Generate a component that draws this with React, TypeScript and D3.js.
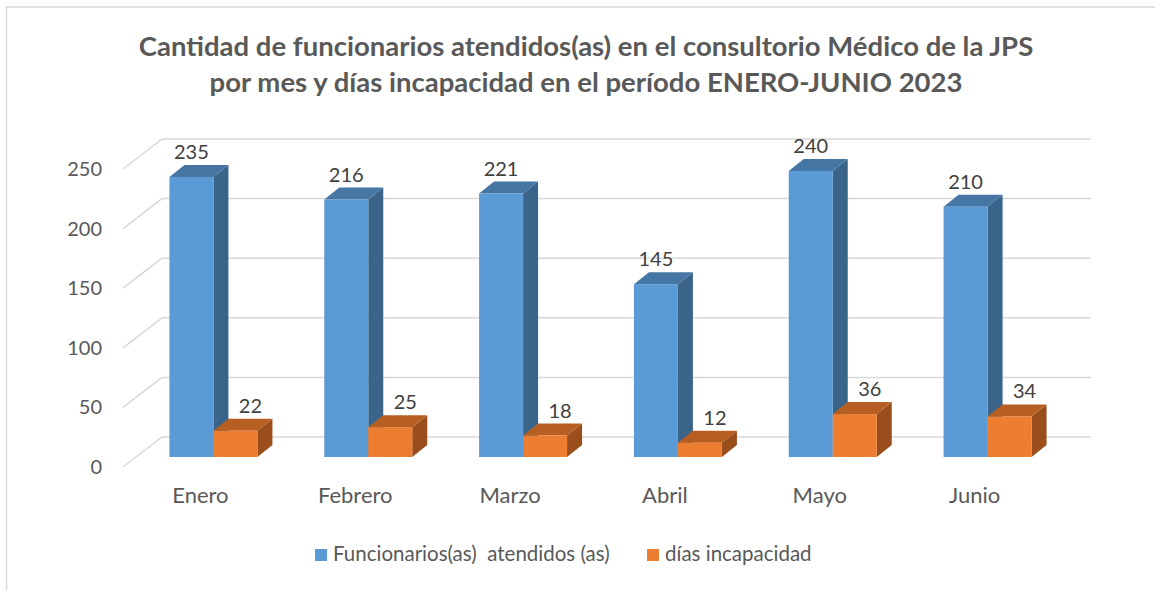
import React, { useEffect, useRef } from "react";
import * as d3 from "d3";

const months = ["Enero", "Febrero", "Marzo", "Abril", "Mayo", "Junio"];
const atendidos = [235, 216, 221, 145, 240, 210];
const incapacidad = [22, 25, 18, 12, 36, 34];
const yTicks = [0, 50, 100, 150, 200, 250];
const seriesNames = ["Funcionarios(as)  atendidos (as)", "días incapacidad"];
const titleLines = [
  "Cantidad de funcionarios atendidos(as) en el consultorio Médico de la JPS",
  "por mes y días incapacidad en el período ENERO-JUNIO 2023",
];

const FONT = "Lato, 'Open Sans', sans-serif";

export default function App() {
  const svgRef = useRef<SVGSVGElement>(null);

  useEffect(() => {
    const svg = d3.select(svgRef.current);
    svg.selectAll("*").remove();

    const W = 1155, H = 590;
    svg.attr("width", W).attr("height", H);

    // chart border
    svg.append("rect")
      .attr("x", 6.5).attr("y", 7)
      .attr("width", 1200).attr("height", 700)
      .attr("fill", "white").attr("stroke", "#d9d9d9").attr("stroke-width", 1.5);

    // title
    titleLines.forEach((t, i) => {
      svg.append("text")
        .attr("x", 586).attr("y", 56 + i * 36)
        .attr("text-anchor", "middle")
        .attr("font-family", FONT).attr("font-weight", "bold")
        .attr("font-size", 27.5).attr("fill", "#595959")
        .text(t);
    });

    // back plane scales
    const x = d3.scaleBand<string>().domain(months).range([162, 1091]);
    const y = d3.scaleLinear().domain([0, 250]).range([437, 139]);
    const front = { dx: -39, dy: 30 };
    const mid = { dx: -26, dy: 20 };
    const depth = { dx: 15, dy: -12 };

    const grid = svg.append("g").attr("stroke", "#d9d9d9").attr("stroke-width", 1.5).attr("fill", "none");
    yTicks.forEach(v => {
      grid.append("line").attr("x1", x.range()[0]).attr("x2", x.range()[1]).attr("y1", y(v)).attr("y2", y(v));
      grid.append("line")
        .attr("x1", x.range()[0] + front.dx).attr("y1", y(v) + front.dy)
        .attr("x2", x.range()[0]).attr("y2", y(v));
    });

    // y axis labels
    svg.append("g").selectAll("text").data(yTicks).join("text")
      .attr("x", 102).attr("y", d => y(d) + front.dy)
      .attr("dy", "0.35em")
      .attr("text-anchor", "end")
      .attr("font-family", FONT).attr("font-size", 20).attr("fill", "#595959")
      .text(d => d);

    // category labels
    svg.append("g").selectAll("text").data(months).join("text")
      .attr("x", d => (x(d) as number) + front.dx + x.bandwidth() / 2)
      .attr("y", 503)
      .attr("text-anchor", "middle")
      .attr("font-family", FONT).attr("font-size", 22).attr("fill", "#595959")
      .text(d => d);

    const groupW = 88;
    const inner = d3.scaleBand<number>().domain([0, 1]).range([0, groupW]);
    const series = [
      { values: atendidos, front: "#5b9bd5", top: "#4676a3", side: "#3a6489", labelDx: 0 },
      { values: incapacidad, front: "#ed7d31", top: "#b75f22", side: "#9a4e1b", labelDx: 15 },
    ];

    const bars = svg.append("g");
    const labels = svg.append("g");
    months.forEach((m, i) => {
      const gx = (x(m) as number) + mid.dx + (x.bandwidth() - groupW) / 2;
      series.forEach((s, si) => {
        const v = s.values[i];
        const x0 = gx + (inner(si) as number);
        const x1 = x0 + inner.bandwidth();
        const yb = y(0) + mid.dy;
        const yt = y(v) + mid.dy;
        const g = bars.append("g");
        // side
        g.append("path")
          .attr("d", `M${x1},${yt}L${x1 + depth.dx},${yt + depth.dy}L${x1 + depth.dx},${yb + depth.dy}L${x1},${yb}Z`)
          .attr("fill", s.side);
        // top
        g.append("path")
          .attr("d", `M${x0},${yt}L${x0 + depth.dx},${yt + depth.dy}L${x1 + depth.dx},${yt + depth.dy}L${x1},${yt}Z`)
          .attr("fill", s.top);
        // front
        g.append("rect")
          .attr("x", x0).attr("y", yt).attr("width", x1 - x0).attr("height", yb - yt)
          .attr("fill", s.front);

        labels.append("text")
          .attr("x", (x0 + x1) / 2 + s.labelDx)
          .attr("y", yt + depth.dy - 6)
          .attr("text-anchor", "middle")
          .attr("font-family", FONT).attr("font-size", 20).attr("fill", "#404040")
          .text(v);
      });
    });

    // legend
    const legend = svg.append("g");
    const legendX = [315, 647];
    seriesNames.forEach((n, i) => {
      legend.append("rect")
        .attr("x", legendX[i]).attr("y", 549).attr("width", 12).attr("height", 12)
        .attr("fill", series[i].front);
      legend.append("text")
        .attr("x", legendX[i] + 18).attr("y", 561)
        .attr("font-family", FONT).attr("font-size", 20.5).attr("fill", "#595959")
        .style("white-space", "pre")
        .text(n);
    });
  }, []);

  return (
    <div style={{ position: "absolute", left: 0, top: 0 }}>
      <svg ref={svgRef} style={{ display: "block" }}></svg>
    </div>
  );
}
